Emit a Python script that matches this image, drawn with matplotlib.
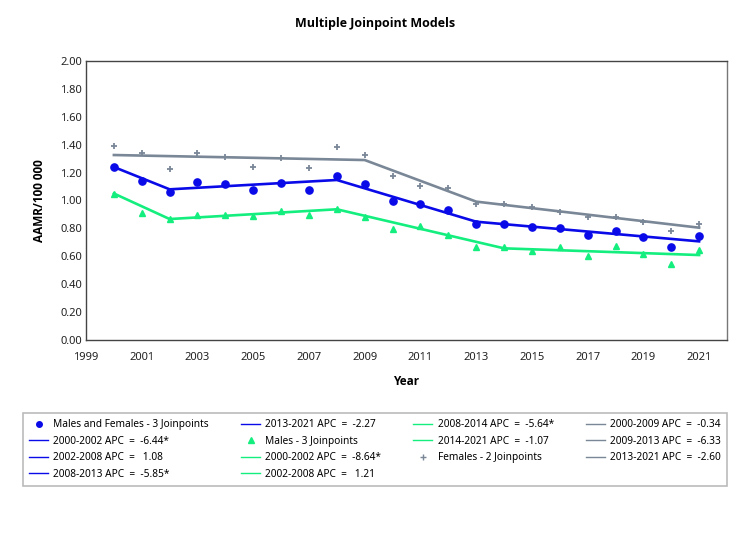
import matplotlib
matplotlib.use("Agg")
import matplotlib.pyplot as plt
from matplotlib.lines import Line2D

plt.rcParams['font.family'] = ['Noto Sans', 'DejaVu Sans']

# observed rates
years = list(range(2000, 2022))
mf_obs = [1.24, 1.14, 1.06, 1.135, 1.118, 1.078, 1.128, 1.075, 1.178, 1.116, 0.996,
          0.972, 0.932, 0.83, 0.83, 0.81, 0.80, 0.753, 0.78, 0.738, 0.67, 0.745]
m_obs = [1.05, 0.908, 0.865, 0.894, 0.898, 0.891, 0.925, 0.896, 0.937, 0.88, 0.793,
         0.815, 0.753, 0.667, 0.664, 0.638, 0.664, 0.602, 0.672, 0.614, 0.545, 0.645]
f_obs = [1.393, 1.338, 1.226, 1.343, 1.31, 1.24, 1.305, 1.235, 1.381, 1.326, 1.173,
         1.106, 1.092, 0.975, 0.972, 0.95, 0.918, 0.882, 0.88, 0.846, 0.781, 0.834]

# fitted joinpoint models
mf_fit_years = [2000, 2002, 2008, 2013, 2021]
mf_fit = [1.24, 1.08, 1.147, 0.848, 0.707]
m_fit_years = [2000, 2002, 2008, 2014, 2021]
m_fit = [1.05, 0.867, 0.937, 0.657, 0.609]
f_fit_years = [2000, 2009, 2013, 2021]
f_fit = [1.326, 1.29, 0.992, 0.805]

mf_labels = ['2000-2002 APC  =  -6.44*', '2002-2008 APC  =   1.08',
             '2008-2013 APC  =  -5.85*', '2013-2021 APC  =  -2.27']
m_labels = ['2000-2002 APC  =  -8.64*', '2002-2008 APC  =   1.21',
            '2008-2014 APC  =  -5.64*', '2014-2021 APC  =  -1.07']
f_labels = ['2000-2009 APC  =  -0.34', '2009-2013 APC  =  -6.33',
            '2013-2021 APC  =  -2.60']

blue = '#0a0ae8'
green = '#14ee7e'
gray = '#7a8797'
bold_font = ['Open Sans', 'DejaVu Sans']

fig = plt.figure(figsize=(7.5, 5.36), dpi=100)
ax = fig.add_axes([0.1147, 0.3657, 0.8546, 0.5205])

ax.plot(f_fit_years, f_fit, color=gray, lw=1.9, zorder=2)
ax.plot(mf_fit_years, mf_fit, color=blue, lw=1.9, zorder=2)
ax.plot(m_fit_years, m_fit, color=green, lw=1.9, zorder=2)
ax.plot(years, f_obs, ls='none', marker='+', ms=5, mew=1.3, color=gray, zorder=3)
ax.plot(years, mf_obs, ls='none', marker='o', ms=5.2, color=blue, zorder=3)
ax.plot(years, m_obs, ls='none', marker='^', ms=5, color=green, zorder=3)

ax.set_xlim(1999, 2022)
ax.set_ylim(0, 2.0)
ax.set_xticks(range(1999, 2022, 2))
ax.set_yticks([i * 0.2 for i in range(11)])
ax.set_yticklabels(['%.2f' % (i * 0.2) for i in range(11)])
ax.tick_params(axis='both', length=0, labelsize=8, colors='#222222')
ax.tick_params(axis='x', pad=9)
ax.tick_params(axis='y', pad=3)
for s in ax.spines.values():
    s.set_color('#444444')
    s.set_linewidth(1.0)
ax.spines['right'].set_color('#777777')

ax.set_xlabel('Year', fontsize=8.5, fontweight='bold', family=bold_font, labelpad=8)
ax.set_ylabel('AAMR/100 000', fontsize=8.5, fontweight='bold', family=bold_font,
              labelpad=10)
fig.text(0.5, 1 - 24 / 536, 'Multiple Joinpoint Models', ha='center', va='center',
         fontsize=9, fontweight='bold', family=bold_font)

# legend
def seg(c):
    return Line2D([], [], color=c, lw=1.0)

handles, labels = [], []
handles.append(Line2D([], [], ls='none', marker='o', ms=4, color=blue))
labels.append('Males and Females - 3 Joinpoints')
for lb in mf_labels:
    handles.append(seg(blue)); labels.append(lb)
handles.append(Line2D([], [], ls='none', marker='^', ms=4, color=green))
labels.append('Males - 3 Joinpoints')
for lb in m_labels:
    handles.append(seg(green)); labels.append(lb)
handles.append(Line2D([], [], ls='none', marker='+', ms=4, mew=1, color=gray))
labels.append('Females - 2 Joinpoints')
for lb in f_labels:
    handles.append(seg(gray)); labels.append(lb)

leg = fig.legend(handles, labels, ncol=4, loc='upper left', mode='expand',
                 bbox_to_anchor=(23 / 750, 1 - 486 / 536, 704 / 750, 73 / 536),
                 borderaxespad=0, fontsize=7.3, frameon=True, fancybox=False,
                 edgecolor='#aaaaaa', handlelength=1.9, handletextpad=0.5,
                 labelspacing=0.55, borderpad=0.6)
leg.get_frame().set_linewidth(1.2)

fig.savefig('out.png', dpi=100)
